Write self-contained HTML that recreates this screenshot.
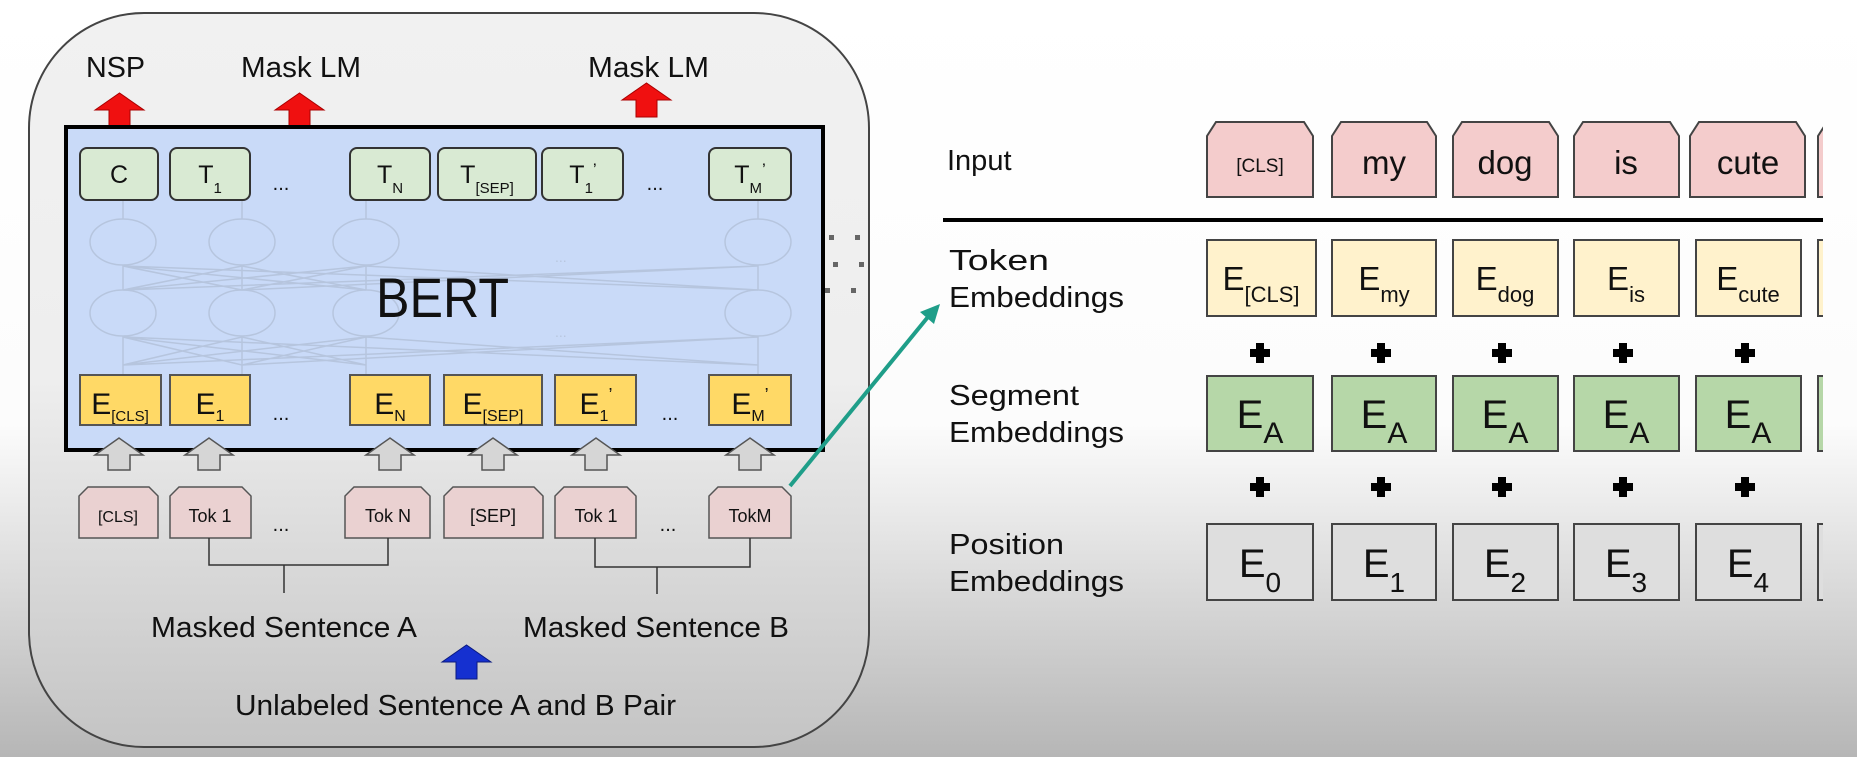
<!DOCTYPE html>
<html><head><meta charset="utf-8"><style>
html,body{margin:0;padding:0;width:1857px;height:757px;overflow:hidden;background:#fff}
svg text{font-family:"Liberation Sans",Arial,sans-serif;fill:#111}
</style></head><body>
<svg width="1857" height="757" viewBox="0 0 1857 757" xmlns="http://www.w3.org/2000/svg">
<defs>
<linearGradient id="bg" x1="0" y1="0" x2="0" y2="1">
<stop offset="0" stop-color="#fff"/><stop offset="0.56" stop-color="#fcfcfc"/><stop offset="1" stop-color="#b6b6b6"/>
</linearGradient>
<linearGradient id="pn" x1="0" y1="0" x2="0" y2="1">
<stop offset="0" stop-color="#f1f1f1"/><stop offset="0.5" stop-color="#eeeeee"/><stop offset="1" stop-color="#c4c4c4"/>
</linearGradient>
<clipPath id="rc"><rect x="0" y="0" width="1823" height="757"/></clipPath>
</defs>
<rect width="1857" height="757" fill="url(#bg)"/>
<rect x="29" y="13" width="840" height="734" rx="115" ry="115" fill="url(#pn)" stroke="#444" stroke-width="2"/>
<text x="86" y="77" font-size="29" textLength="59" lengthAdjust="spacingAndGlyphs">NSP</text>
<text x="241" y="77" font-size="29" textLength="120" lengthAdjust="spacingAndGlyphs">Mask LM</text>
<text x="588" y="77" font-size="29" textLength="121" lengthAdjust="spacingAndGlyphs">Mask LM</text>
<g fill="#f01010" stroke="#a00" stroke-width="1">
<polygon points="95,110 119.5,93 144,110 130,110 130,128 109,128 109,110"/>
<polygon points="275,110 299.5,93 324,110 310,110 310,128 289,128 289,110"/>
<polygon points="622,100 646.5,83 671,100 657,100 657,117 636,117 636,100"/>
</g>
<rect x="66" y="127" width="757" height="323" fill="#c9daf8" stroke="#000" stroke-width="4"/>
<g fill="none" stroke="#b2c0d8" stroke-width="1.5" opacity="0.8">
<ellipse cx="123" cy="242" rx="33" ry="23"/><ellipse cx="242" cy="242" rx="33" ry="23"/><ellipse cx="366" cy="242" rx="33" ry="23"/><ellipse cx="758" cy="242" rx="33" ry="23"/>
<ellipse cx="123" cy="313" rx="33" ry="23"/><ellipse cx="242" cy="313" rx="33" ry="23"/><ellipse cx="366" cy="313" rx="33" ry="23"/><ellipse cx="758" cy="313" rx="33" ry="23"/>
<path d="M123 200V219M242 200V219M366 200V219M758 200V219M123 265V290M242 265V290M366 265V290M758 265V290M123 336V375M242 336V375M366 336V375M758 336V375"/>
<path d="M123 290L242 266M123 290L366 266M123 290L758 266M242 290L123 266M242 290L366 266M242 290L758 266M366 290L123 266M366 290L242 266M758 290L123 266M758 290L366 266"/>
<path d="M123 365L242 337M123 365L366 337M123 365L758 337M242 365L123 337M242 365L366 337M242 365L758 337M366 365L123 337M366 365L242 337M758 365L123 337M758 365L366 337"/>
</g>
<text x="555" y="262" font-size="14" style="fill:#b8c6de">...</text>
<text x="555" y="337" font-size="14" style="fill:#b8c6de">...</text>
<text x="376" y="317" font-size="56" textLength="133" lengthAdjust="spacingAndGlyphs">BERT</text>
<g fill="#d9ead3" stroke="#333" stroke-width="2">
<rect x="80" y="148" width="78" height="52" rx="7"/><rect x="170" y="148" width="80" height="52" rx="7"/>
<rect x="350" y="148" width="80" height="52" rx="7"/><rect x="438" y="148" width="98" height="52" rx="7"/>
<rect x="542" y="148" width="81" height="52" rx="7"/><rect x="709" y="148" width="82" height="52" rx="7"/>
</g>
<g font-size="25" text-anchor="middle">
<text x="119" y="183">C</text>
<text x="210" y="183">T<tspan font-size="15" dy="10">1</tspan></text>
<text x="390" y="183">T<tspan font-size="15" dy="10">N</tspan></text>
<text x="487" y="183">T<tspan font-size="15" dy="10">[SEP]</tspan></text>
<text x="583" y="183">T<tspan font-size="15" dy="10">1</tspan><tspan dy="-18" font-size="17">’</tspan></text>
<text x="750" y="183">T<tspan font-size="15" dy="10">M</tspan><tspan dy="-18" font-size="17">’</tspan></text>
<text x="281" y="190" font-size="20">...</text><text x="655" y="190" font-size="20">...</text>
</g>
<g fill="#ffd966" stroke="#555" stroke-width="2">
<rect x="80" y="375" width="81" height="50"/><rect x="170" y="375" width="80" height="50"/>
<rect x="350" y="375" width="80" height="50"/><rect x="444" y="375" width="98" height="50"/>
<rect x="555" y="375" width="81" height="50"/><rect x="709" y="375" width="82" height="50"/>
</g>
<g font-size="30" text-anchor="middle">
<text x="120" y="414">E<tspan font-size="15" dy="7">[CLS]</tspan></text>
<text x="210" y="414">E<tspan font-size="16" dy="7">1</tspan></text>
<text x="390" y="414">E<tspan font-size="16" dy="7">N</tspan></text>
<text x="493" y="414">E<tspan font-size="16" dy="7">[SEP]</tspan></text>
<text x="596" y="414">E<tspan font-size="16" dy="7">1</tspan><tspan dy="-20" font-size="18">’</tspan></text>
<text x="750" y="414">E<tspan font-size="16" dy="7">M</tspan><tspan dy="-20" font-size="18">’</tspan></text>
<text x="281" y="420" font-size="20">...</text><text x="670" y="420" font-size="20">...</text>
</g>
<g fill="#d6d6d6" stroke="#555" stroke-width="1.5">
<polygon points="95,455 119,438 143,455 130,455 130,470 108,470 108,455"/>
<polygon points="185,455 209,438 233,455 220,455 220,470 198,470 198,455"/>
<polygon points="366,455 390,438 414,455 401,455 401,470 379,470 379,455"/>
<polygon points="469,455 493,438 517,455 504,455 504,470 482,470 482,455"/>
<polygon points="572,455 596,438 620,455 607,455 607,470 585,470 585,455"/>
<polygon points="726,455 750,438 774,455 761,455 761,470 739,470 739,455"/>
</g>
<g fill="#ead1d1" stroke="#555" stroke-width="1.5">
<polygon points="79,538 79,496 88,487 149,487 158,496 158,538"/>
<polygon points="170,538 170,496 179,487 242,487 251,496 251,538"/>
<polygon points="345,538 345,496 354,487 421,487 430,496 430,538"/>
<polygon points="444,538 444,496 453,487 534,487 543,496 543,538"/>
<polygon points="555,538 555,496 564,487 627,487 636,496 636,538"/>
<polygon points="709,538 709,496 718,487 782,487 791,496 791,538"/>
</g>
<g font-size="18" text-anchor="middle">
<text x="118" y="522" font-size="16">[CLS]</text><text x="210" y="522">Tok 1</text>
<text x="388" y="522">Tok N</text><text x="493" y="522">[SEP]</text>
<text x="596" y="522">Tok 1</text><text x="750" y="522">TokM</text>
<text x="281" y="531" font-size="20">...</text><text x="668" y="531" font-size="20">...</text>
</g>
<g fill="none" stroke="#333" stroke-width="1.5">
<path d="M209 538V565H388V538M284 565V593"/>
<path d="M595 538V567H750V538M657 567V594"/>
</g>
<text x="151" y="637" font-size="29" textLength="266" lengthAdjust="spacingAndGlyphs">Masked Sentence A</text>
<text x="523" y="637" font-size="29" textLength="266" lengthAdjust="spacingAndGlyphs">Masked Sentence B</text>
<polygon points="442,662 466.5,645 491,662 477,662 477,679 456,679 456,662" fill="#1530d0" stroke="#0a1a80" stroke-width="1"/>
<text x="235" y="715" font-size="29" textLength="441" lengthAdjust="spacingAndGlyphs">Unlabeled Sentence A and B Pair</text>
<g fill="#666"><rect x="829" y="235" width="5" height="5"/><rect x="855" y="235" width="5" height="5"/><rect x="833" y="262" width="5" height="5"/><rect x="859" y="262" width="5" height="5"/><rect x="825" y="288" width="5" height="5"/><rect x="851" y="288" width="5" height="5"/></g>
<line x1="790" y1="486" x2="932" y2="312" stroke="#1f9e89" stroke-width="4"/>
<polygon points="940,304 920,312 934,324" fill="#1f9e89"/>
<g font-size="29">
<text x="947" y="170">Input</text>
<text x="949" y="270" textLength="100" lengthAdjust="spacingAndGlyphs">Token</text><text x="949" y="307" textLength="175" lengthAdjust="spacingAndGlyphs">Embeddings</text>
<text x="949" y="405" textLength="130" lengthAdjust="spacingAndGlyphs">Segment</text><text x="949" y="442" textLength="175" lengthAdjust="spacingAndGlyphs">Embeddings</text>
<text x="949" y="554" textLength="115" lengthAdjust="spacingAndGlyphs">Position</text><text x="949" y="591" textLength="175" lengthAdjust="spacingAndGlyphs">Embeddings</text>
</g>
<rect x="943" y="218" width="880" height="4" fill="#000"/>
<g clip-path="url(#rc)">
<g fill="#f4cccc" stroke="#444" stroke-width="2">
<polygon points="1207,197 1207,136 1216,122 1304,122 1313,136 1313,197"/>
<polygon points="1332,197 1332,136 1341,122 1427,122 1436,136 1436,197"/>
<polygon points="1453,197 1453,136 1462,122 1549,122 1558,136 1558,197"/>
<polygon points="1574,197 1574,136 1583,122 1670,122 1679,136 1679,197"/>
<polygon points="1690,197 1690,136 1699,122 1796,122 1805,136 1805,197"/>
<polygon points="1818,197 1818,136 1827,122 1900,122 1900,197"/>
</g>
<g fill="#fff2cc" stroke="#444" stroke-width="2">
<rect x="1207" y="240" width="109" height="76"/><rect x="1332" y="240" width="104" height="76"/><rect x="1453" y="240" width="105" height="76"/><rect x="1574" y="240" width="105" height="76"/><rect x="1696" y="240" width="105" height="76"/><rect x="1818" y="240" width="60" height="76"/>
</g>
<g fill="#b6d7a8" stroke="#444" stroke-width="2">
<rect x="1207" y="376" width="106" height="75"/><rect x="1332" y="376" width="104" height="75"/><rect x="1453" y="376" width="105" height="75"/><rect x="1574" y="376" width="105" height="75"/><rect x="1696" y="376" width="105" height="75"/><rect x="1818" y="376" width="60" height="75"/>
</g>
<g fill="#dedede" stroke="#444" stroke-width="2">
<rect x="1207" y="524" width="106" height="76"/><rect x="1332" y="524" width="104" height="76"/><rect x="1453" y="524" width="105" height="76"/><rect x="1574" y="524" width="105" height="76"/><rect x="1696" y="524" width="105" height="76"/><rect x="1818" y="524" width="60" height="76"/>
</g>
</g>
<g text-anchor="middle">
<text x="1260" y="172" font-size="19">[CLS]</text>
<text x="1384" y="174" font-size="33">my</text>
<text x="1505" y="174" font-size="33">dog</text>
<text x="1626" y="174" font-size="33">is</text>
<text x="1748" y="174" font-size="33">cute</text>
</g>
<g text-anchor="middle" font-size="33">
<text x="1261" y="290">E<tspan font-size="22" dy="12">[CLS]</tspan></text>
<text x="1384" y="290">E<tspan font-size="22" dy="12">my</tspan></text>
<text x="1505" y="290">E<tspan font-size="22" dy="12">dog</tspan></text>
<text x="1626" y="290">E<tspan font-size="22" dy="12">is</tspan></text>
<text x="1748" y="290">E<tspan font-size="22" dy="12">cute</tspan></text>
</g>
<g text-anchor="middle" font-size="40">
<text x="1260" y="428">E<tspan font-size="30" dy="15">A</tspan></text>
<text x="1384" y="428">E<tspan font-size="30" dy="15">A</tspan></text>
<text x="1505" y="428">E<tspan font-size="30" dy="15">A</tspan></text>
<text x="1626" y="428">E<tspan font-size="30" dy="15">A</tspan></text>
<text x="1748" y="428">E<tspan font-size="30" dy="15">A</tspan></text>
</g>
<g text-anchor="middle" font-size="40">
<text x="1260" y="577">E<tspan font-size="28" dy="15">0</tspan></text>
<text x="1384" y="577">E<tspan font-size="28" dy="15">1</tspan></text>
<text x="1505" y="577">E<tspan font-size="28" dy="15">2</tspan></text>
<text x="1626" y="577">E<tspan font-size="28" dy="15">3</tspan></text>
<text x="1748" y="577">E<tspan font-size="28" dy="15">4</tspan></text>
</g>
<g fill="#000">
<path d="M1256 343h8v6h6v8h-6v6h-8v-6h-6v-8h6z"/><path d="M1377 343h8v6h6v8h-6v6h-8v-6h-6v-8h6z"/><path d="M1498 343h8v6h6v8h-6v6h-8v-6h-6v-8h6z"/><path d="M1619 343h8v6h6v8h-6v6h-8v-6h-6v-8h6z"/><path d="M1741 343h8v6h6v8h-6v6h-8v-6h-6v-8h6z"/>
<path d="M1256 477h8v6h6v8h-6v6h-8v-6h-6v-8h6z"/><path d="M1377 477h8v6h6v8h-6v6h-8v-6h-6v-8h6z"/><path d="M1498 477h8v6h6v8h-6v6h-8v-6h-6v-8h6z"/><path d="M1619 477h8v6h6v8h-6v6h-8v-6h-6v-8h6z"/><path d="M1741 477h8v6h6v8h-6v6h-8v-6h-6v-8h6z"/>
</g>
</svg>
</body></html>
